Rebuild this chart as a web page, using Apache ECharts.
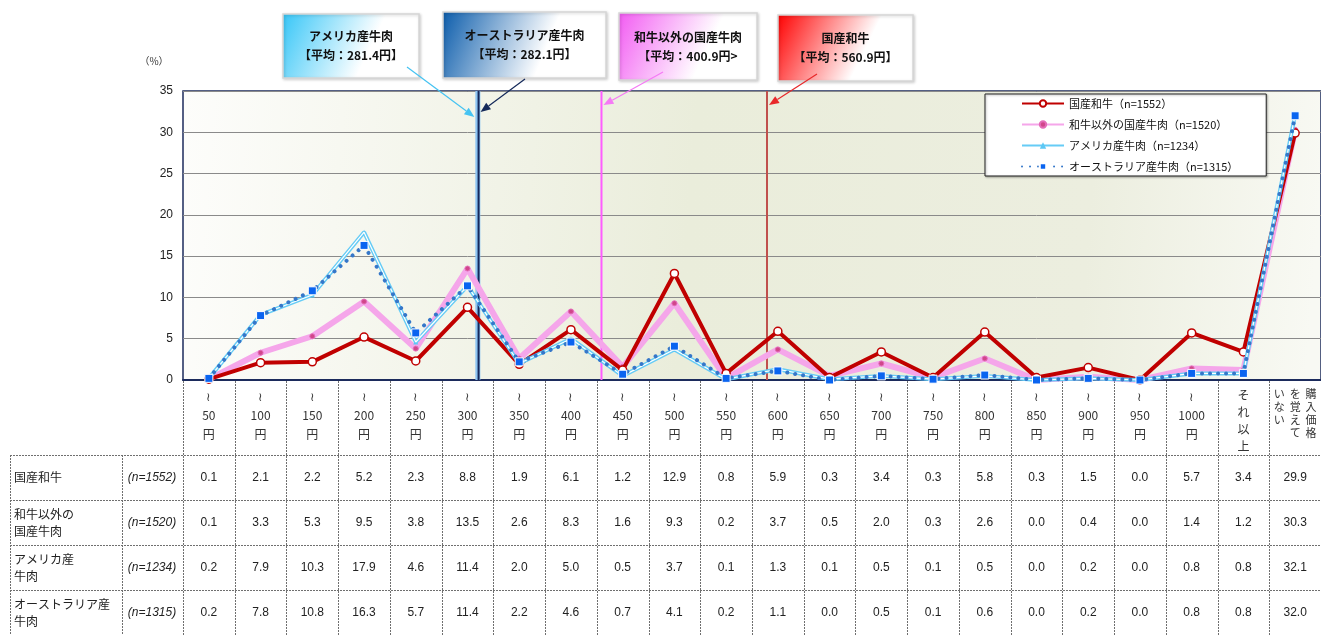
<!DOCTYPE html>
<html>
<head>
<meta charset="utf-8">
<script src="https://cdn.jsdelivr.net/npm/echarts@6/dist/echarts.min.js"></script>
<style>
html,body{margin:0;padding:0;background:#ffffff;}
#chart{width:1321px;height:635px;}
</style>
</head>
<body>
<div id="chart"></div>
<script>
// Price bands (per 100g) used as the category axis and as the table header
const categories = ['～50円','～100円','～150円','～200円','～250円','～300円','～350円','～400円','～450円','～500円',
  '～550円','～600円','～650円','～700円','～750円','～800円','～850円','～900円','～950円','～1000円','それ以上','購入価格を覚えていない'];

// Share of respondents (%) per price band
const wagyu    = [0.1,2.1,2.2,5.2,2.3,8.8,1.9,6.1,1.2,12.9,0.8,5.9,0.3,3.4,0.3,5.8,0.3,1.5,0.0,5.7,3.4,29.9];
const domestic = [0.1,3.3,5.3,9.5,3.8,13.5,2.6,8.3,1.6,9.3,0.2,3.7,0.5,2.0,0.3,2.6,0.0,0.4,0.0,1.4,1.2,30.3];
const usBeef   = [0.2,7.9,10.3,17.9,4.6,11.4,2.0,5.0,0.5,3.7,0.1,1.3,0.1,0.5,0.1,0.5,0.0,0.2,0.0,0.8,0.8,32.1];
const ausBeef  = [0.2,7.8,10.8,16.3,5.7,11.4,2.2,4.6,0.7,4.1,0.2,1.1,0.0,0.5,0.1,0.6,0.0,0.2,0.0,0.8,0.8,32.0];

const seriesNames = ['国産和牛','和牛以外の国産牛肉','アメリカ産牛肉','オーストラリア産牛肉'];
const sampleSizes = [1552,1520,1234,1315];
const rowLabels   = ['国産和牛','和牛以外の\n国産牛肉','アメリカ産\n牛肉','オーストラリア産\n牛肉'];

// Average purchase price (yen) and the callouts that name them
const meanPrices     = [281.4, 282.1, 400.9, 560.9];
const calloutTitles  = ['アメリカ産牛肉','オーストラリア産牛肉','和牛以外の国産牛肉','国産和牛'];
const calloutClosers = ['】','】','>','】'];

// Y axis
const yMin = 0, yMax = 35, yStep = 5;

const FONT = '"Liberation Sans", "Noto Sans CJK JP", sans-serif';
const JFONT = '"Noto Sans CJK JP", sans-serif';

const legendNames = seriesNames.map((s, i) => s + '（n=' + sampleSizes[i] + '）');
const seriesData = [wagyu, domestic, usBeef, ausBeef];

function headerLabel(c) {
  if (c[0] === '～') return '≀\n' + c.slice(1, -1) + '\n円';
  if (c.length <= 4) return '{s|' + c.split('').join('\n') + '}';
  // long label: vertical columns of four characters, read right to left
  const cols = [];
  for (let i = 0; i < c.length; i += 4) cols.push(c.slice(i, i + 4));
  const rows = [];
  for (let r = 0; r < 4; r++) rows.push(cols.slice().reverse().map(s => s[r] || '　').join('  '));
  return '{v|' + rows.join('\n') + '}';
}

const chart = echarts.init(document.getElementById('chart'), null, {renderer: 'canvas'});

const meanColors = ['#8cc4f2', '#16285a', '#ff5cff', '#c0504d'];
const meanWidths = [5, 2, 2, 2];

const option = {
  animation: false,
  backgroundColor: '#ffffff',
  textStyle: {fontFamily: FONT},
  grid: {
    left: 183, top: 91, right: -8, bottom: 255,
    show: true,
    borderColor: '#1c2b5c', borderWidth: 1.5,
    backgroundColor: new echarts.graphic.LinearGradient(0, 0, 1, 0.3, [
      {offset: 0, color: '#fdfdfb'},
      {offset: 0.45, color: '#eaeddb'},
      {offset: 0.8, color: '#eceedf'},
      {offset: 1, color: '#f8f9f3'}
    ])
  },
  legend: {
    data: legendNames,
    orient: 'vertical',
    left: 985, top: 94,
    backgroundColor: '#ffffff',
    borderColor: '#222222', borderWidth: 1,
    shadowColor: 'rgba(0,0,0,0.3)', shadowBlur: 2, shadowOffsetX: 1, shadowOffsetY: 1,
    padding: [4, 28, 4, 36],
    itemWidth: 42, itemHeight: 8, itemGap: 10,
    textStyle: {fontSize: 11, color: '#111', fontFamily: JFONT}
  },
  xAxis: [{
    type: 'category',
    data: categories,
    axisLine: {lineStyle: {color: '#1c2b5c', width: 2}},
    axisTick: {show: false},
    axisLabel: {
      interval: 0, margin: 7,
      fontSize: 12, lineHeight: 19, color: '#333',
      fontFamily: JFONT,
      formatter: headerLabel,
      rich: {
        s: {fontSize: 12, lineHeight: 17, color: '#333', fontFamily: JFONT},
        v: {fontSize: 11, lineHeight: 13, color: '#333', fontFamily: JFONT}
      }
    },
    splitLine: {show: false}
  }, {
    // hidden price scale used to place the average-price lines
    type: 'value', show: false,
    min: -3.6, max: 1096.4
  }],
  yAxis: {
    type: 'value', min: yMin, max: yMax, interval: yStep,
    axisLine: {show: false},
    axisTick: {show: false},
    axisLabel: {fontSize: 12, color: '#222', margin: 10, fontFamily: FONT},
    splitLine: {lineStyle: {color: '#8a8a8a', width: 1}}
  },
  series: [
    ...meanPrices.map((m, i) => ({
      type: 'line', xAxisIndex: 1, z: 1,
      data: [[m, yMin], [m, yMax]],
      symbol: 'none', silent: true,
      lineStyle: {color: meanColors[i], width: meanWidths[i]}
    })),
    {
      name: legendNames[1], type: 'line', data: domestic, z: 2,
      symbol: 'circle', symbolSize: 5,
      itemStyle: {color: '#d0468a', borderColor: '#e46cb8', borderWidth: 1},
      lineStyle: {color: '#f5a6ea', width: 6}
    },
    {
      name: legendNames[0], type: 'line', data: wagyu, z: 3,
      symbol: 'circle', symbolSize: 8,
      itemStyle: {color: '#ffffff', borderColor: '#c00000', borderWidth: 1.5},
      lineStyle: {color: '#c00000', width: 4}
    },
    {
      name: legendNames[2], type: 'line', data: usBeef, z: 4,
      symbol: 'triangle', symbolSize: 5,
      itemStyle: {color: '#5cc8f5'},
      lineStyle: {color: '#66ccf6', width: 4}
    },
    {
      // inner white stroke that gives the double-line look
      type: 'line', data: usBeef, z: 5, silent: true,
      symbol: 'none',
      lineStyle: {color: '#ffffff', width: 1.2}
    },
    {
      name: legendNames[3], type: 'line', data: ausBeef, z: 6,
      symbol: 'rect', symbolSize: 8,
      itemStyle: {color: '#0a64f0', borderColor: '#ffffff', borderWidth: 1},
      lineStyle: {color: '#3577c9', width: 4, type: [0.01, 8], cap: 'round'}
    }
  ]
};

chart.setOption(option);

// ---- table, callouts and unit label, positioned from the axes ----
const xc = i => chart.convertToPixel({xAxisIndex: 0}, i);
const step = xc(1) - xc(0);
const plotBottom = chart.convertToPixel({yAxisIndex: 0}, yMin);
const rowTops = [455, 500, 545, 590];
const rowH = 45;
const tableBottom = 635;
const graphics = [];
const dash = {stroke: '#6f6f6f', lineWidth: 1, lineDash: [2, 1]};

// horizontal rules
rowTops.forEach(y => graphics.push({type: 'line', silent: true,
  shape: {x1: 10, y1: y + 0.5, x2: 1321, y2: y + 0.5}, style: dash}));
// left label columns
[10, 122].forEach(x => graphics.push({type: 'line', silent: true,
  shape: {x1: x + 0.5, y1: rowTops[0], x2: x + 0.5, y2: tableBottom}, style: dash}));
// price-band columns, from the axis down through the table
for (let i = 0; i <= categories.length; i++) {
  const x = Math.round(xc(0) - step / 2 + i * step) + 0.5;
  graphics.push({type: 'line', silent: true,
    shape: {x1: x, y1: plotBottom + 1, x2: x, y2: tableBottom}, style: dash});
}
// row labels, sample sizes and values
seriesData.forEach((arr, r) => {
  const cy = rowTops[r] + rowH / 2;
  graphics.push({type: 'text', silent: true, x: 14, y: cy,
    style: {text: rowLabels[r], fill: '#222', font: '12px ' + JFONT, lineHeight: 17,
      align: 'left', verticalAlign: 'middle'}});
  graphics.push({type: 'text', silent: true, x: 152, y: cy,
    style: {text: '(n=' + sampleSizes[r] + ')', fill: '#222', font: 'italic 12px ' + FONT,
      align: 'center', verticalAlign: 'middle'}});
  arr.forEach((v, i) => graphics.push({type: 'text', silent: true, x: xc(i), y: cy,
    style: {text: v.toFixed(1), fill: '#222', font: '12px ' + FONT,
      align: 'center', verticalAlign: 'middle'}}));
});

// unit label
graphics.push({type: 'text', silent: true, x: 154, y: 61,
  style: {text: '（%）', fill: '#333', font: '10px ' + JFONT, align: 'center', verticalAlign: 'middle'}});

// callout boxes with arrows pointing at the average-price lines
const boxes = [
  {x: 283, y: 14, w: 136, h: 64, color: '#36c6f7', from: [407, 67], tipY: 117, stroke: '#45c3f2', side: -1},
  {x: 443, y: 12, w: 163, h: 66, color: '#0b5cab', from: [525, 79], tipY: 112, stroke: '#14295a', side: 1},
  {x: 619, y: 13, w: 138, h: 67, color: '#f25bf2', from: [663, 72], tipY: 105, stroke: '#f57af5', side: 1},
  {x: 778, y: 15, w: 135, h: 66, color: '#ff0000', from: [817, 74], tipY: 105, stroke: '#e8282a', side: 1}
];
boxes.forEach((b, i) => {
  const lineX = chart.convertToPixel({xAxisIndex: 1}, meanPrices[i]);
  const tx = lineX + b.side * (meanWidths[i] / 2 + 1);
  const ty = b.tipY;
  const [fx, fy] = b.from;
  const ang = Math.atan2(ty - fy, tx - fx);
  const hl = 10, hw = 4;
  const bx = tx - hl * Math.cos(ang), by = ty - hl * Math.sin(ang);
  const px = -Math.sin(ang) * hw, py = Math.cos(ang) * hw;
  graphics.push({type: 'rect', silent: true, z: 10,
    shape: {x: b.x, y: b.y, width: b.w, height: b.h},
    style: {
      fill: {type: 'linear', x: 0, y: 0, x2: 1, y2: 1, colorStops: [
        {offset: 0, color: b.color}, {offset: 0.62, color: '#ffffff'}, {offset: 1, color: '#ffffff'}]},
      stroke: '#d6d6d6', lineWidth: 1.5,
      shadowColor: 'rgba(0,0,0,0.18)', shadowBlur: 3, shadowOffsetX: 1, shadowOffsetY: 1
    }});
  graphics.push({type: 'text', silent: true, z: 11, x: b.x + b.w / 2, y: b.y + b.h / 2,
    style: {text: calloutTitles[i] + '\n【平均：' + meanPrices[i].toFixed(1) + '円' + calloutClosers[i],
      fill: '#111', font: 'bold 12px ' + JFONT, lineHeight: 19,
      align: 'center', verticalAlign: 'middle'}});
  graphics.push({type: 'line', silent: true, z: 12,
    shape: {x1: fx, y1: fy, x2: bx, y2: by}, style: {stroke: b.stroke, lineWidth: 1.2}});
  graphics.push({type: 'polygon', silent: true, z: 12,
    shape: {points: [[tx, ty], [bx + px, by + py], [bx - px, by - py]]}, style: {fill: b.stroke}});
});

chart.setOption({graphic: graphics});
</script>
</body>
</html>
